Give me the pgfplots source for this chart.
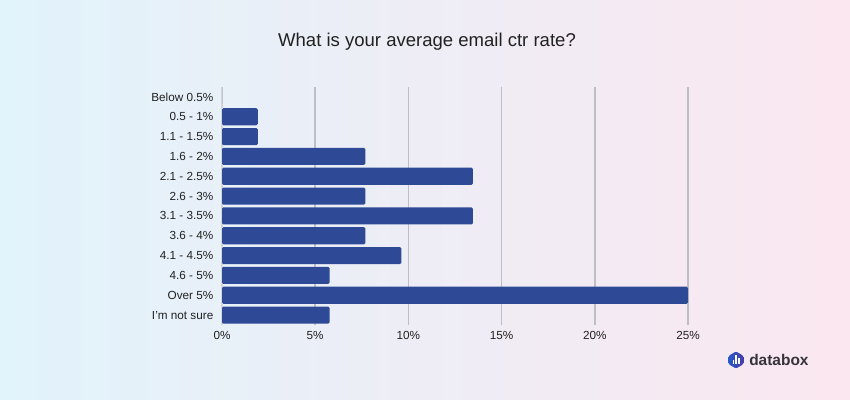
\documentclass[border=0pt]{standalone}
\usepackage{fontspec}
\setmainfont{Liberation Sans}
\usepackage{pgfplots}
\pgfplotsset{compat=1.18}
\usetikzlibrary{shapes.geometric}
\definecolor{barblue}{RGB}{46,74,150}
\definecolor{gridgray}{RGB}{190,190,196}
\definecolor{axgray}{RGB}{212,212,218}
\definecolor{bgleft}{RGB}{225,243,251}
\definecolor{bgright}{RGB}{251,231,240}
\definecolor{txt}{RGB}{33,33,33}
\definecolor{logotxt}{RGB}{52,52,58}
\definecolor{logoa}{RGB}{40,90,200}
\definecolor{logob}{RGB}{70,60,170}

\begin{document}
\begin{tikzpicture}[x=0.75pt,y=0.75pt]
% background
\shade[left color=bgleft,right color=bgright] (0,0) rectangle (850,400);

\begin{axis}[
    at={(166.5pt,56.25pt)}, anchor=south west,
    scale only axis,
    width=349.5pt, height=178.5pt,
    xmin=0, xmax=25,
    ymin=-0.5, ymax=11.5,
    y dir=reverse,
    axis line style={draw=none},
    major tick length=0pt,
    xtick={5,10,...,25},
    extra x ticks={0},
    extra x tick style={grid style={axgray, line width=1.1pt}},
    xticklabel={\pgfmathprintnumber{\tick}\%},
    xmajorgrids,
    grid style={gridgray, line width=1.1pt},
    ytick={0,...,11},
    yticklabels={Below 0.5\%, 0.5 - 1\%, 1.1 - 1.5\%, 1.6 - 2\%, 2.1 - 2.5\%,
        2.6 - 3\%, 3.1 - 3.5\%, 3.6 - 4\%, 4.1 - 4.5\%, 4.6 - 5\%, Over 5\%, I’m not sure},
    tick label style={font=\fontsize{8.8pt}{10pt}\selectfont, text=txt},
    /pgf/number format/assume math mode=true,
    yticklabel style={xshift=-3pt},
    xticklabel style={yshift=-1.5pt},
]
\addplot[xbar, bar width=0.86, fill=barblue, draw=none,
    rounded corners=1pt] coordinates {
    (0,0)
    (1.92,1)
    (1.92,2)
    (7.69,3)
    (13.46,4)
    (7.69,5)
    (13.46,6)
    (7.69,7)
    (9.62,8)
    (5.77,9)
    (25,10)
    (5.77,11)
};
\end{axis}

% title
\node[anchor=base, text=txt, font=\fontsize{13.9pt}{16pt}\selectfont] at (427,353)
    {What is your average email ctr rate?};

% logo
\node[regular polygon, regular polygon sides=6, shape border rotate=30,
    minimum size=17pt*0.75, inner sep=0pt, rounded corners=1pt,
    left color=logoa, right color=logob, draw=none] (hex) at (736,40) {};
\fill[white] (732.5,35.5) rectangle (734,40);
\fill[white] (735.3,35.5) rectangle (736.8,45);
\fill[white] (738.1,35.5) rectangle (739.6,42);
\node[anchor=west, text=logotxt, inner sep=0pt,
    font=\fontsize{11.6pt}{13pt}\selectfont\bfseries] at (749,40) {databox};
\end{tikzpicture}
\end{document}
